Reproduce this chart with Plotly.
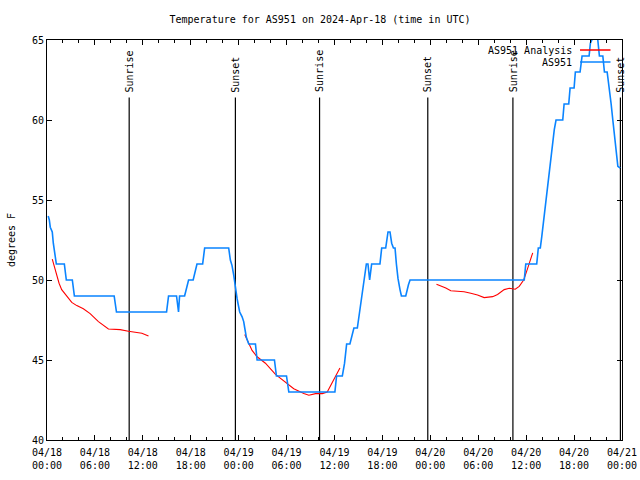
import pandas as pd
import plotly.graph_objects as go

BASE = pd.Timestamp("2024-04-18 00:00")

# AS951 observations: hours since 04/18 00:00 UTC, temperature (deg F)
obs_hours = [0.15, 0.29, 0.41, 0.66, 0.79, 0.97, 1.09, 1.17, 2.17, 2.42, 3.17, 3.43, 8.41,
             8.70, 14.97, 15.22, 16.22, 16.47, 16.60, 17.23, 17.73, 18.30, 18.78, 19.49,
             19.74, 22.75, 22.96, 23.17, 23.38, 23.50, 23.68, 23.80, 23.93, 24.13, 24.43,
             24.63, 24.76, 24.97, 25.26, 26.10, 26.31, 28.48, 28.73, 29.99, 30.28, 36.05,
             36.26, 36.98, 37.26, 37.52, 37.93, 38.43, 38.86, 39.06, 39.18, 39.36, 39.61,
             39.77, 39.90, 39.99, 40.19, 40.40, 40.65, 41.69, 41.91, 42.41, 42.50, 42.70,
             42.95, 43.16, 43.38, 43.58, 43.75, 43.95, 44.20, 44.38, 44.92, 45.04, 45.26,
             45.46, 59.76, 59.95, 61.32, 61.52, 61.77, 61.95, 62.20, 62.40, 62.70, 63.02,
             63.32, 63.52, 63.74, 64.58, 64.75, 65.33, 65.50, 66.00, 66.16, 66.75, 67.00,
             67.88, 68.04, 68.22, 68.38, 68.76, 68.97, 69.17, 69.60, 69.80, 70.14, 70.43,
             70.64, 70.85, 71.05, 71.27, 71.48, 71.77]
obs_temp = [54.0, 53.75, 53.3, 53.0, 52.3, 51.7, 51.4, 51.0, 51.0, 50.0, 50.0, 49.0, 49.0,
            48.0, 48.0, 49.0, 49.0, 48.0, 49.0, 49.0, 50.0, 50.0, 51.0, 51.0,
            52.0, 52.0, 51.25, 50.9, 50.3, 49.8, 49.27, 48.85, 48.5, 48.0, 47.7,
            47.4, 47.0, 46.4, 46.0, 46.0, 45.0, 45.0, 44.0, 44.0, 43.0, 43.0,
            44.0, 44.0, 44.8, 46.0, 46.0, 47.0, 47.0, 47.7, 48.1, 48.75, 49.6,
            50.2, 50.7, 51.0, 51.0, 50.0, 51.0, 51.0, 52.0, 52.0, 52.3, 53.0,
            53.0, 52.3, 52.0, 52.0, 51.0, 50.1, 49.4, 49.0, 49.0, 49.3, 49.7,
            50.0, 50.0, 51.0, 51.0, 52.0, 52.0, 52.7, 53.75, 54.8, 56.0, 57.5,
            58.5, 59.4, 60.0, 60.0, 61.0, 61.0, 62.0, 62.0, 63.0, 63.0, 64.0,
            64.0, 64.8, 65.0, 66.0, 66.0, 65.0, 64.0, 64.0, 63.0, 63.0, 62.0,
            61.0, 60.0, 59.0, 58.1, 57.1, 57.0]

# AS951 Analysis (None = gap)
ana_hours = [0.66, 0.92, 1.22, 1.51, 1.84, 2.47, 3.10, 3.73, 4.55, 5.40, 6.44, 7.69, 9.16,
             10.20, 11.25, 11.88, 12.71, None,
             24.76, 25.26, 25.68, 26.31, 27.35, 28.61, 29.86, 30.90, 32.16, 32.79, 33.63,
             34.47, 35.09, 35.72, 36.14, 36.68, None,
             48.77, 49.31, 49.94, 50.56, 52.23, 53.07, 53.91, 54.74, 55.80, 56.42, 57.25,
             57.88, 58.63, 59.13, 59.69, 60.10, 60.39, 60.82]
ana_temp = [51.3, 50.8, 50.3, 49.8, 49.4, 48.96, 48.6, 48.4, 48.2, 47.9, 47.4, 46.94, 46.9,
            46.8, 46.73, 46.67, 46.5, None,
            46.6, 46.04, 45.6, 45.2, 44.8, 44.1, 43.6, 43.2, 42.9, 42.8, 42.9,
            42.9, 43.0, 43.6, 44.06, 44.5, None,
            49.73, 49.64, 49.5, 49.33, 49.27, 49.17, 49.06, 48.9, 48.96, 49.1, 49.4,
            49.48, 49.42, 49.6, 50.0, 50.6, 51.1, 51.7]

# Sun events (hours since 04/18 00:00 UTC)
sun_hours = [10.29, 23.59, 34.13, 47.68, 58.34, 71.80]
sun_labels = ["Sunrise", "Sunset", "Sunrise", "Sunset", "Sunrise", "Sunset"]
sun_line_top = 61.4
sun_label_base = 61.6

Y_MIN, Y_MAX = 40, 65
X_START, X_END = "2024-04-18 00:00", "2024-04-21 00:00"


def to_time(hours):
    return [None if h is None else BASE + pd.Timedelta(hours=h) for h in hours]


FONT = "DejaVu Sans Mono"

fig = go.Figure()

# vertical sun lines
sx, sy = [], []
for h in sun_hours:
    t = BASE + pd.Timedelta(hours=h)
    sx += [t, t, None]
    sy += [Y_MIN, sun_line_top, None]
fig.add_trace(go.Scatter(x=sx, y=sy, mode="lines", line=dict(color="black", width=1.2),
                         hoverinfo="skip", showlegend=False))

fig.add_trace(go.Scatter(x=to_time(ana_hours), y=ana_temp, mode="lines",
                         line=dict(color="#ff0000", width=1.1), name="AS951 Analysis",
                         connectgaps=False, showlegend=False))
fig.add_trace(go.Scatter(x=to_time(obs_hours), y=obs_temp, mode="lines",
                         line=dict(color="#0a84ff", width=1.6), name="AS951",
                         showlegend=False))

for h, lab in zip(sun_hours, sun_labels):
    fig.add_annotation(x=BASE + pd.Timedelta(hours=h), y=sun_label_base, text=lab,
                       textangle=-90, showarrow=False, xanchor="center", yanchor="bottom",
                       font=dict(family=FONT, size=10, color="black"))

# key (gnuplot style: text then line sample)
key_items = [("AS951 Analysis", "#ff0000", 0.975), ("AS951", "#0a84ff", 0.945)]
for text, col, yy in key_items:
    fig.add_annotation(x=0.917, y=yy, xref="paper", yref="paper", text=text,
                       showarrow=False, xanchor="right", yanchor="middle",
                       font=dict(family=FONT, size=10, color="black"))
    fig.add_shape(type="line", xref="paper", yref="paper", x0=0.927, x1=0.98, y0=yy, y1=yy,
                  line=dict(color=col, width=1.5))

axis_common = dict(showline=True, linecolor="black", linewidth=1, mirror="allticks",
                   ticks="inside", tickcolor="black", showgrid=False, zeroline=False,
                   automargin=False,
                   tickfont=dict(family=FONT, size=10, color="black"))

fig.update_layout(
    width=640, height=480,
    margin=dict(l=47, r=18, t=40, b=40),
    paper_bgcolor="white", plot_bgcolor="white",
    title=dict(text="Temperature for AS951 on 2024-Apr-18 (time in UTC)", x=0.5,
               xref="container", xanchor="center", y=1 - 19 / 480, yref="container",
               yanchor="middle", automargin=False,
               font=dict(family=FONT, size=10, color="black")),
    xaxis=dict(range=[X_START, X_END], type="date", tick0=X_START, dtick=6 * 3600 * 1000,
               tickformat="%m/%d<br>%H:%M", ticklen=5, ticklabelstandoff=3,
               minor=dict(dtick=2 * 3600 * 1000, ticks="inside", ticklen=3, tickcolor="black"),
               **axis_common),
    yaxis=dict(range=[Y_MIN, Y_MAX], dtick=5, ticklen=5,
               title=dict(text="degrees F", font=dict(family=FONT, size=10, color="black"),
                          standoff=14),
               **axis_common),
)

fig.write_html("out.html", config={"displayModeBar": False},
               post_script="document.body.style.margin='0px';document.body.style.overflow='hidden';")
